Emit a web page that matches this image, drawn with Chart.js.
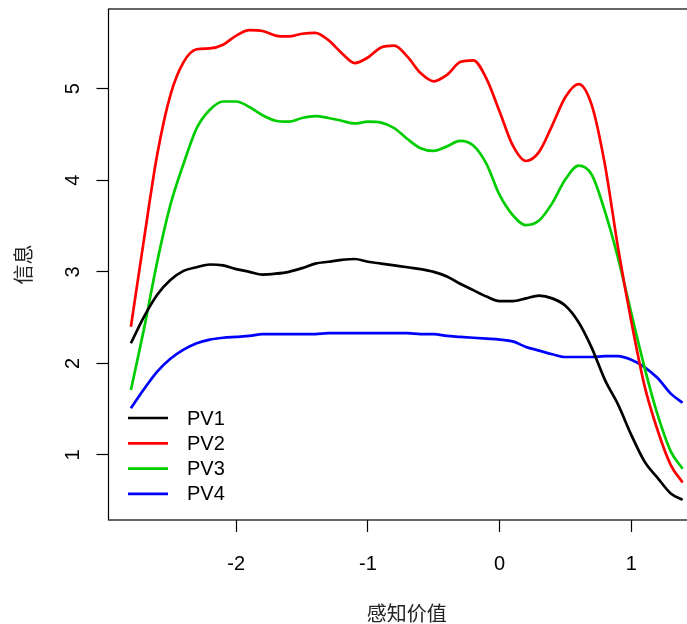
<!DOCTYPE html>
<html>
<head>
<meta charset="utf-8">
<script src="https://cdn.jsdelivr.net/npm/chart.js@4"></script>
<style>
  html, body { margin: 0; padding: 0; background: #fff; overflow: hidden; }
  #cadre { width: 687px; height: 624px; overflow: hidden; position: relative; }
  #graphique { display: block; }
</style>
</head>
<body>
<div id="cadre">
  <canvas id="graphique" width="720" height="624" style="width:720px;height:624px"></canvas>
</div>
<script>
// ---------- données ----------
const valeursX = [-2.8, -2.7, -2.6, -2.5, -2.4, -2.3, -2.2, -2.1, -2.0, -1.9, -1.8, -1.7, -1.6, -1.5,
  -1.4, -1.3, -1.2, -1.1, -1.0, -0.9, -0.8, -0.7, -0.6, -0.5, -0.4, -0.3, -0.2, -0.1,
  0.0, 0.1, 0.2, 0.3, 0.4, 0.5, 0.6, 0.7, 0.8, 0.9, 1.0, 1.1, 1.2, 1.3, 1.39];

const pv1 = [2.22, 2.51, 2.75, 2.91, 3.01, 3.05, 3.08, 3.07, 3.03, 3.00, 2.97, 2.98, 3.00, 3.04,
  3.09, 3.11, 3.13, 3.14, 3.11, 3.09, 3.07, 3.05, 3.03, 3.00, 2.95, 2.87, 2.80, 2.73,
  2.68, 2.68, 2.71, 2.74, 2.71, 2.63, 2.45, 2.17, 1.82, 1.55, 1.22, 0.93, 0.75, 0.58, 0.51];

const pv2 = [2.40, 3.36, 4.28, 4.93, 5.29, 5.43, 5.44, 5.48, 5.58, 5.64, 5.63, 5.58, 5.57, 5.60,
  5.61, 5.53, 5.39, 5.28, 5.34, 5.45, 5.47, 5.35, 5.17, 5.08, 5.15, 5.29, 5.31, 5.11,
  4.75, 4.38, 4.21, 4.31, 4.60, 4.91, 5.05, 4.82, 4.17, 3.26, 2.46, 1.76, 1.27, 0.89, 0.70];

const pv3 = [1.71, 2.38, 3.11, 3.73, 4.18, 4.57, 4.77, 4.86, 4.86, 4.80, 4.71, 4.65, 4.64, 4.68,
  4.70, 4.68, 4.65, 4.62, 4.64, 4.63, 4.57, 4.45, 4.35, 4.32, 4.37, 4.43, 4.38, 4.18,
  3.84, 3.62, 3.51, 3.56, 3.75, 4.01, 4.16, 4.06, 3.66, 3.15, 2.55, 1.96, 1.44, 1.04, 0.85];

const pv4 = [1.51, 1.72, 1.91, 2.05, 2.15, 2.22, 2.26, 2.28, 2.29, 2.30, 2.32, 2.32, 2.32, 2.32,
  2.32, 2.33, 2.33, 2.33, 2.33, 2.33, 2.33, 2.33, 2.32, 2.32, 2.30, 2.29, 2.28, 2.27,
  2.26, 2.24, 2.18, 2.14, 2.10, 2.07, 2.07, 2.07, 2.08, 2.08, 2.04, 1.96, 1.84, 1.67, 1.57];

const nomsSeries = ['PV1', 'PV2', 'PV3', 'PV4'];
const couleursSeries = ['#000000', '#ff0000', '#00cd00', '#0000ff'];
const ticksX = [-2, -1, 0, 1];
const ticksY = [1, 2, 3, 4, 5];

// ---------- construction ----------
const policeLatine = '"Liberation Sans", Arial, Helvetica, sans-serif';
const policeCJK = '"Noto Sans CJK SC", "Noto Sans", sans-serif';

const datasets = [pv1, pv2, pv3, pv4].map((serie, i) => ({
  label: nomsSeries[i],
  data: valeursX.map((x, j) => ({ x: x, y: serie[j] })),
  borderColor: couleursSeries[i],
  backgroundColor: couleursSeries[i],
  borderWidth: 2.7,
  pointRadius: 0,
  fill: false,
  cubicInterpolationMode: 'monotone'
}));

// cadre autour de la zone de tracé (comme box() dans R)
const pluginCadre = {
  id: 'cadre',
  afterDraw(chart) {
    const { ctx, chartArea: a } = chart;
    ctx.save();
    ctx.strokeStyle = '#000';
    ctx.lineWidth = 1.2;
    ctx.strokeRect(a.left, a.top, a.right - a.left, a.bottom - a.top);
    ctx.restore();
  }
};

// légende sans boîte, en bas à gauche dans la zone de tracé
const pluginLegende = {
  id: 'legendeR',
  afterDraw(chart) {
    const { ctx, chartArea: a } = chart;
    ctx.save();
    ctx.font = '20px ' + policeLatine;
    ctx.textBaseline = 'middle';
    ctx.textAlign = 'left';
    chart.data.datasets.forEach((ds, i) => {
      const y = a.bottom - 102 + i * 25.3;
      ctx.strokeStyle = ds.borderColor;
      ctx.lineWidth = 2.7;
      ctx.beginPath();
      ctx.moveTo(a.left + 19.5, y);
      ctx.lineTo(a.left + 59.5, y);
      ctx.stroke();
      ctx.fillStyle = '#000';
      ctx.fillText(ds.label, a.left + 78.5, y + 1);
    });
    ctx.restore();
  }
};

new Chart(document.getElementById('graphique'), {
  type: 'line',
  data: { datasets: datasets },
  plugins: [pluginCadre, pluginLegende],
  options: {
    responsive: false,
    animation: false,
    devicePixelRatio: 1,
    layout: { padding: { top: 9, right: 15, left: 0, bottom: 0 } },
    plugins: { legend: { display: false }, tooltip: { enabled: false } },
    scales: {
      x: {
        type: 'linear',
        position: 'bottom',
        min: -2.97,
        max: 1.56,
        afterBuildTicks: (s) => { s.ticks = ticksX.map(v => ({ value: v })); },
        afterFit: (s) => { s.height = 104; s.paddingLeft = 0; s.paddingRight = 0; },
        grid: { drawOnChartArea: false, drawTicks: true, tickLength: 12, tickColor: '#000', tickWidth: 1.2 },
        border: { display: false },
        ticks: {
          color: '#000',
          padding: 20,
          maxRotation: 0,
          autoSkip: false,
          font: { family: policeLatine, size: 20 },
          callback: (v) => String(v)
        },
        title: {
          display: true,
          text: '感知价值',
          color: '#222',
          padding: { top: 0, bottom: 0 },
          font: { family: policeCJK, size: 20, lineHeight: 1.1 }
        }
      },
      y: {
        type: 'linear',
        min: 0.29,
        max: 5.87,
        afterBuildTicks: (s) => { s.ticks = ticksY.map(v => ({ value: v })); },
        afterFit: (s) => { s.width = 108.5; s.paddingTop = 0; s.paddingBottom = 0; },
        grid: { drawOnChartArea: false, drawTicks: true, tickLength: 12, tickColor: '#000', tickWidth: 1.2 },
        border: { display: false },
        ticks: {
          color: '#000',
          padding: 17,
          minRotation: 90,
          maxRotation: 90,
          crossAlign: 'center',
          autoSkip: false,
          font: { family: policeLatine, size: 20 },
          callback: (v) => String(v)
        },
        title: {
          display: true,
          text: '信息',
          color: '#222',
          padding: { top: 12, bottom: 0 },
          font: { family: policeCJK, size: 20, lineHeight: 1.1 }
        }
      }
    }
  }
});
</script>
</body>
</html>
